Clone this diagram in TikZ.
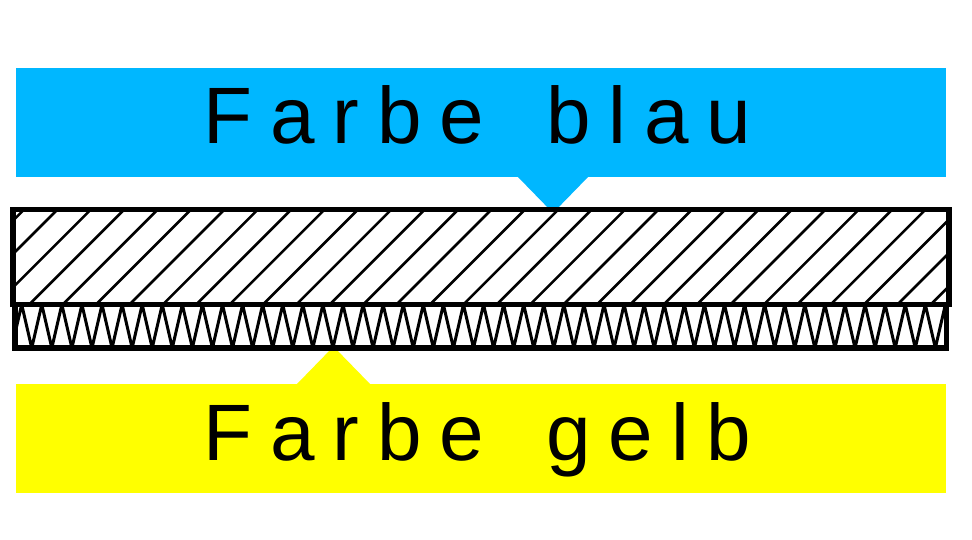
\documentclass[tikz,border=0pt]{standalone}
\usepackage{fontspec}
\newfontfamily\labfont{Liberation Sans}[LetterSpace=22.5]
\definecolor{skyblue}{RGB}{0,183,255}
\definecolor{pureyellow}{RGB}{255,255,0}
\tikzset{
  banner/.style={inner sep=0pt, outer sep=0pt, minimum width=930pt, minimum height=109pt, draw=none},
  lbltext/.style={inner sep=0pt, outer sep=0pt, anchor=base west, font=\labfont\fontsize{80}{90}\selectfont},
  layerframe/.style={line width=5.5pt, line join=miter},
  hatchline/.style={line width=2.6pt},
  zigline/.style={line width=3pt, line join=miter}
}
\begin{document}
\begin{tikzpicture}[x=1pt,y=-1pt]
\useasboundingbox (0,0) rectangle (972,540);
\fill[white] (0,0) rectangle (972,540);
% blue banner
\node[banner, fill=skyblue] (bluebox) at (481,122.5) {};
\fill[skyblue] (517,176) -- (589,176) -- (553,213) -- cycle;
% yellow banner
\node[banner, fill=pureyellow] (yellowbox) at (481,438.5) {};
\fill[pureyellow] (296,385) -- (371,385) -- (333.5,346.5) -- cycle;
% lower layer with zigzag
\fill[white] (15,304.5) rectangle (946.5,348);
\begin{scope}
  \clip (15,304.5) rectangle (946.5,348);
  \draw[zigline] (1.62,304.5) foreach \k in {0,...,47} { -- ({11.66+20.08*\k},348) -- ({21.7+20.08*\k},304.5) };
\end{scope}
\draw[layerframe] (15,304.5) rectangle (946.5,348);
% upper layer with hatching
\fill[white] (13,209.5) rectangle (949,304.5);
\begin{scope}
  \clip (13,209.5) rectangle (949,304.5);
  \foreach \k in {-2,...,30} {
    \draw[hatchline] ({267+33.39*\k-209.5},209.5) -- ({267+33.39*\k-304.5},304.5);
  }
\end{scope}
\draw[layerframe] (13,209.5) rectangle (949,304.5);
% labels
\node[lbltext] (bluetext) at (203.3,144) {Farbe\kern62pt blau};
\node[lbltext] (yellowtext) at (203.3,460) {Farbe\kern62pt gelb};
\end{tikzpicture}
\end{document}
